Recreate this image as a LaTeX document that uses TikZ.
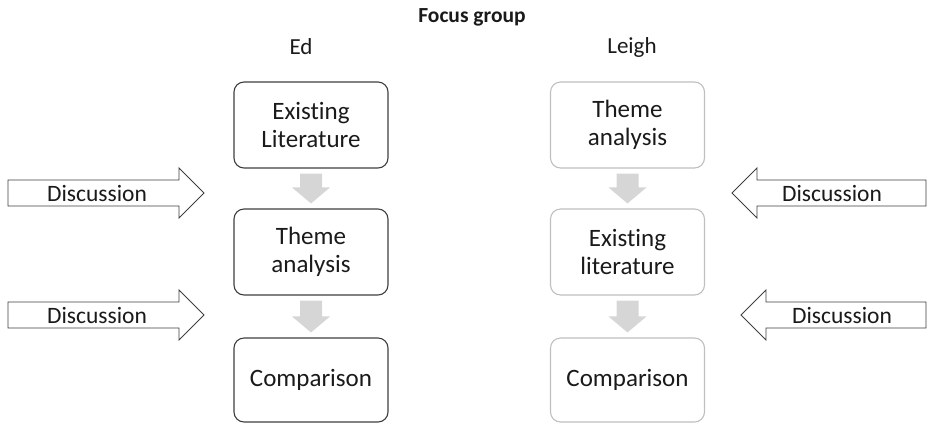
\documentclass[tikz,border=0pt]{standalone}
\usepackage{fontspec}
\setmainfont[Ligatures=NoCommon]{Carlito}
\usetikzlibrary{calc}
\definecolor{inkc}{HTML}{1A1A1A}
\definecolor{edgedark}{HTML}{3F3F3F}
\definecolor{edgelight}{HTML}{BFBFBF}
\definecolor{flowgray}{HTML}{D6D6D6}
\tikzset{
  stage/.style={draw, rounded corners=10pt, line width=1.1pt, minimum width=154pt,
    minimum height=86pt, align=center, inner sep=0pt, text=inkc,
    font=\fontsize{25}{28.5}\selectfont},
  stagedark/.style={stage, draw=edgedark},
  stagelight/.style={stage, draw=edgelight},
  talkarrow/.style={draw=edgedark, fill=white, line width=0.9pt, line join=miter},
  talklabel/.style={text=inkc, font=\fontsize{23.5}{27}\selectfont, inner sep=0pt},
  headlabel/.style={text=inkc, font=\fontsize{23}{27}\selectfont, inner sep=0pt},
  flowarrow/.style={fill=flowgray, draw=none}
}
% block arrow pointing down from one stage to the next
\newcommand\flowdown[2]{%
  \fill[flowarrow]
    ($(#1.south)+(-11,5)$) -- ($(#1.south)+(11,5)$) --
    ($(#2.north)+(11,-21)$) -- ($(#2.north)+(19,-21)$) --
    ($(#2.north)+(0,-5)$) --
    ($(#2.north)+(-19,-21)$) -- ($(#2.north)+(-11,-21)$) -- cycle;}
\begin{document}
\begin{tikzpicture}[x=1pt,y=-1pt]
\useasboundingbox (0,0) rectangle (928,424);

% headings
\node[headlabel, font=\bfseries\fontsize{21.5}{25}\selectfont] (title) at (472,17) {Focus group};
\node[headlabel] (ed) at (301,47) {Ed};
\node[headlabel] (leigh) at (632,47) {Leigh};

% Ed's sequence
\node[stagedark] (e1) at (311,125) {Existing\\Literature};
\node[stagedark] (e2) at (311,252) {Theme\\analysis};
\node[stagedark, minimum height=84pt] (e3) at (311,380) {Comparison};

% Leigh's sequence
\node[stagelight] (l1) at (627.5,125) {Theme\\analysis};
\node[stagelight] (l2) at (627.5,252) {Existing\\literature};
\node[stagelight, minimum height=84pt] (l3) at (627.5,380) {Comparison};

\flowdown{e1}{e2}
\flowdown{e2}{e3}
\flowdown{l1}{l2}
\flowdown{l2}{l3}

% discussion arrows, left side pointing right
\draw[talkarrow] (8,180) -- (179,180) -- (179,168) -- (204,193) -- (179,218) -- (179,206) -- (8,206) -- cycle;
\node[talklabel] (dl1) at (97,193) {Discussion};
\draw[talkarrow] (8,302) -- (179,302) -- (179,290) -- (204,315) -- (179,340) -- (179,328) -- (8,328) -- cycle;
\node[talklabel] (dl2) at (97,315) {Discussion};

% discussion arrows, right side pointing left
\draw[talkarrow] (926,180) -- (757,180) -- (757,168) -- (732,193) -- (757,218) -- (757,206) -- (926,206) -- cycle;
\node[talklabel] (dr1) at (832,193) {Discussion};
\draw[talkarrow] (926,302) -- (766,302) -- (766,290) -- (741,315) -- (766,340) -- (766,328) -- (926,328) -- cycle;
\node[talklabel] (dr2) at (842,315) {Discussion};
\end{tikzpicture}
\end{document}
